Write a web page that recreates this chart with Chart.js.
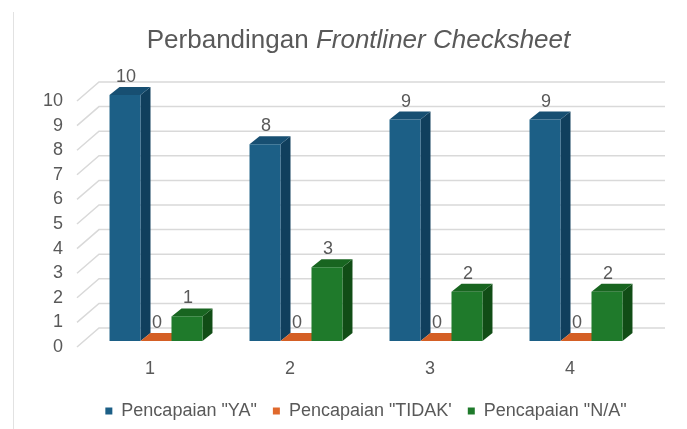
<!DOCTYPE html>
<html>
<head>
<meta charset="utf-8">
<script src="https://cdn.jsdelivr.net/npm/chart.js@4/dist/chart.umd.min.js"></script>
<style>
  html, body { margin: 0; padding: 0; background: #fff; }
  #wrap { position: relative; width: 687px; height: 429px; overflow: hidden; }
  #frame { position: absolute; left: 13px; top: 12px; width: 1px; height: 417px; background: #e2e2e2; }
  #title {
    position: absolute; left: 0; top: 23px; width: 717px; text-align: center;
    font: 26px "Liberation Sans", Arial, sans-serif; line-height: 32px; color: #595959;
  }
  canvas { position: absolute; left: 0; top: 0; }
</style>
</head>
<body>
<div id="wrap">
  <div id="frame"></div>
  <canvas id="chart" width="687" height="429"></canvas>
  <div id="title">Perbandingan <i>Frontliner Checksheet</i></div>
</div>
<script>
// data dari grafik
const categories = ['1', '2', '3', '4'];
const seriesNames = ['Pencapaian "YA"', 'Pencapaian "TIDAK\'', 'Pencapaian "N/A"'];
const ya = [10, 8, 9, 9];
const tidak = [0, 0, 0, 0];
const na = [1, 3, 2, 2];
const yTicks = [0, 1, 2, 3, 4, 5, 6, 7, 8, 9, 10];

// warna: depan, samping, atas
const colors = [
  { front: '#1c5f86', side: '#103f5d', top: '#174f72' },
  { front: '#e0692c', side: '#b4511f', top: '#d45f25' },
  { front: '#1f7a2b', side: '#114d16', top: '#186520' }
];

const DX = 10, DY = -8; // kedalaman 3D batang

// gridline 3D (dinding belakang + garis miring ke label)
const gridPlugin = {
  id: 'grid3d',
  beforeDatasetsDraw(chart) {
    const { ctx, chartArea, scales } = chart;
    ctx.save();
    ctx.strokeStyle = '#d9d9d9';
    ctx.lineWidth = 1.5;
    yTicks.forEach(v => {
      const yf = scales.y.getPixelForValue(v);
      const yBack = yf - 13;
      ctx.beginPath();
      ctx.moveTo(chartArea.left - 9, yf + 6);
      ctx.lineTo(chartArea.left + 13, yBack);
      ctx.lineTo(chartArea.right + 19, yBack);
      ctx.stroke();
    });
    ctx.restore();
  }
};

// sisi samping dan atas batang, digambar di belakang muka depan
const barPlugin = {
  id: 'bar3d',
  beforeDatasetsDraw(chart) {
    const ctx = chart.ctx;
    ctx.save();
    chart.data.datasets.forEach((ds, di) => {
      const meta = chart.getDatasetMeta(di);
      meta.data.forEach(bar => {
        const l = bar.x - bar.width / 2, r = bar.x + bar.width / 2;
        const t = bar.y, b = bar.base;
        // samping
        ctx.fillStyle = colors[di].side;
        ctx.beginPath();
        ctx.moveTo(r, t);
        ctx.lineTo(r + DX, t + DY);
        ctx.lineTo(r + DX, b + DY);
        ctx.lineTo(r, b);
        ctx.closePath();
        ctx.fill();
        // atas
        ctx.fillStyle = colors[di].top;
        ctx.beginPath();
        ctx.moveTo(l, t);
        ctx.lineTo(l + DX, t + DY);
        ctx.lineTo(r + DX, t + DY);
        ctx.lineTo(r, t);
        ctx.closePath();
        ctx.fill();
      });
    });
    ctx.restore();
  },
  afterDatasetsDraw(chart) {
    // label nilai di atas batang
    const ctx = chart.ctx;
    ctx.save();
    ctx.font = '18px "Liberation Sans", Arial, sans-serif';
    ctx.fillStyle = '#595959';
    ctx.textAlign = 'center';
    ctx.textBaseline = 'middle';
    chart.data.datasets.forEach((ds, di) => {
      const meta = chart.getDatasetMeta(di);
      meta.data.forEach((bar, i) => {
        ctx.fillText(String(ds.data[i]), bar.x + 1, bar.y - 18);
      });
    });
    ctx.restore();
  }
};

Chart.defaults.font.family = '"Liberation Sans", Arial, sans-serif';
Chart.defaults.color = '#595959';

new Chart(document.getElementById('chart'), {
  type: 'bar',
  data: {
    labels: categories,
    datasets: [ya, tidak, na].map((d, i) => ({
      label: seriesNames[i],
      data: d,
      backgroundColor: colors[i].front,
      borderWidth: 0,
      categoryPercentage: 0.664,
      barPercentage: 1.0
    }))
  },
  options: {
    responsive: false,
    animation: false,
    layout: { padding: { left: 0, right: 41, top: 95, bottom: -1 } },
    plugins: {
      title: { display: false },
      tooltip: { enabled: false },
      legend: {
        position: 'bottom',
        fullSize: false,
        labels: { boxWidth: 7, boxHeight: 7, padding: 16, font: { size: 18 }, color: '#595959' }
      }
    },
    scales: {
      x: {
        grid: { display: false, drawTicks: false },
        border: { display: false },
        ticks: { font: { size: 18 }, padding: 17, labelOffset: -6 },
        afterFit(scale) { scale.height = 45; }
      },
      y: {
        min: 0,
        max: 10,
        grid: { display: false, drawTicks: false },
        border: { display: false },
        ticks: { stepSize: 1, font: { size: 18 }, padding: 23, labelOffset: 6 },
        afterFit(scale) { scale.width = 86; }
      }
    }
  },
  plugins: [gridPlugin, barPlugin]
});
</script>
</body>
</html>
